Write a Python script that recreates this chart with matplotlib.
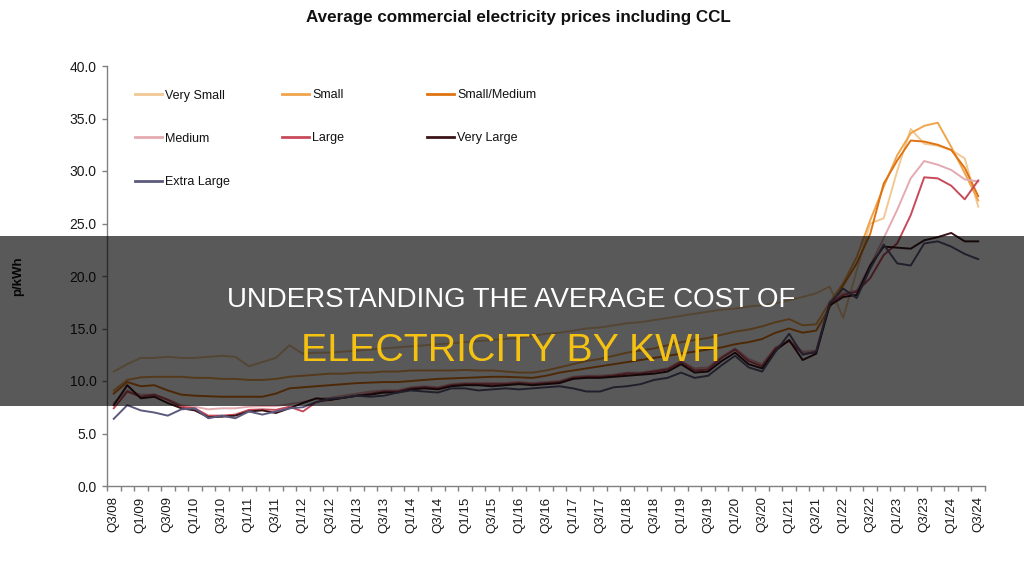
import numpy as np
import matplotlib
matplotlib.use("Agg")
import matplotlib.pyplot as plt
from matplotlib.patches import Rectangle
from matplotlib.lines import Line2D

plt.rcParams['font.family'] = ['Liberation Sans', 'DejaVu Sans']

# ---------------- data ----------------
quarter_labels = []
_q, _y = 3, 8
for _ in range(65):
    quarter_labels.append(f"Q{_q}/{_y:02d}")
    _q += 1
    if _q > 4:
        _q, _y = 1, _y + 1

series_names = ["Very Small", "Small", "Small/Medium", "Medium", "Large", "Very Large", "Extra Large"]

very_small = [10.9, 11.6, 12.2, 12.2, 12.3, 12.2, 12.2, 12.3, 12.4, 12.3,
              11.4, 11.8, 12.2, 13.4, 12.6, 12.7, 12.7, 12.8, 12.9, 13.0,
              13.1, 13.2, 13.3, 13.4, 13.5, 13.6, 13.7, 13.8, 13.9, 14.0,
              14.1, 14.3, 14.5, 14.6, 14.8, 15.0, 15.1, 15.3, 15.5, 15.6,
              15.8, 16.0, 16.2, 16.4, 16.6, 16.8, 16.9, 17.1, 17.2, 17.4,
              17.7, 18.0, 18.35, 19.0, 16.0, 20.5, 25.0, 25.5, 30.0, 34.0,
              32.6, 32.4, 32.0, 31.2, 26.6]
small = [9.1, 10.1, 10.35, 10.4, 10.4, 10.4, 10.3, 10.3, 10.2, 10.2,
         10.1, 10.1, 10.2, 10.4, 10.5, 10.6, 10.7, 10.7, 10.8, 10.8,
         10.9, 10.9, 11.0, 11.0, 11.0, 11.0, 11.05, 11.0, 11.0, 10.9,
         10.8, 10.8, 11.0, 11.3, 11.6, 11.9, 12.1, 12.4, 12.7, 12.9,
         13.1, 13.4, 13.7, 13.9, 14.1, 14.4, 14.7, 14.9, 15.2, 15.6,
         15.9, 15.3, 15.4, 17.5, 19.3, 21.8, 25.3, 28.5, 31.5, 33.6,
         34.3, 34.6, 32.3, 29.8, 27.2]
small_medium = [8.8, 9.9, 9.5, 9.6, 9.1, 8.7, 8.6, 8.55, 8.5, 8.5,
                8.5, 8.5, 8.8, 9.3, 9.4, 9.5, 9.6, 9.7, 9.8, 9.85,
                9.9, 9.9, 10.0, 10.1, 10.2, 10.25, 10.3, 10.35, 10.4, 10.4,
                10.35, 10.3, 10.5, 10.8, 11.0, 11.2, 11.4, 11.6, 11.8, 12.0,
                12.2, 12.4, 12.6, 12.8, 13.0, 13.2, 13.5, 13.7, 14.0, 14.6,
                15.0, 14.6, 14.8, 17.0, 19.1, 21.2, 24.0, 28.8, 31.0, 32.9,
                32.8, 32.5, 32.0, 30.3, 27.6]
medium = [7.9, 9.1, 8.7, 8.7, 8.25, 7.7, 7.55, 7.3, 7.4, 7.4,
          7.55, 7.6, 7.6, 7.8, 8.0, 8.3, 8.4, 8.6, 8.8, 9.0,
          9.1, 9.1, 9.4, 9.5, 9.4, 9.7, 9.8, 9.8, 9.8, 9.8,
          9.9, 9.8, 9.9, 10.0, 10.4, 10.5, 10.5, 10.6, 10.8, 10.8,
          11.0, 11.2, 11.9, 11.2, 11.3, 12.3, 13.1, 12.1, 11.6, 13.2,
          13.9, 12.8, 12.9, 17.6, 18.4, 18.6, 21.0, 23.6, 26.3, 29.3,
          30.95, 30.6, 30.1, 29.2, 29.0]
large = [7.4, 9.0, 8.5, 8.7, 8.2, 7.55, 7.4, 6.7, 6.7, 6.8,
         7.25, 7.3, 7.25, 7.55, 7.1, 8.0, 8.2, 8.4, 8.6, 8.8,
         9.0, 9.0, 9.3, 9.4, 9.3, 9.6, 9.7, 9.7, 9.7, 9.7,
         9.8, 9.7, 9.8, 9.9, 10.3, 10.4, 10.4, 10.5, 10.7, 10.7,
         10.9, 11.1, 11.8, 11.0, 11.1, 12.2, 13.0, 11.9, 11.4, 13.1,
         13.8, 12.6, 12.7, 17.4, 18.2, 18.5, 19.8, 22.0, 23.1, 25.8,
         29.4, 29.3, 28.6, 27.3, 29.1]
very_large = [7.7, 9.6, 8.35, 8.5, 7.9, 7.4, 7.2, 6.55, 6.6, 6.7,
              7.1, 7.2, 6.95, 7.4, 7.9, 8.35, 8.2, 8.4, 8.6, 8.7,
              8.9, 8.9, 9.2, 9.3, 9.2, 9.5, 9.6, 9.6, 9.5, 9.6,
              9.7, 9.6, 9.7, 9.8, 10.2, 10.3, 10.3, 10.4, 10.5, 10.6,
              10.7, 10.9, 11.6, 10.8, 10.9, 11.9, 12.7, 11.6, 11.2, 12.9,
              13.9, 12.0, 12.6, 17.2, 18.0, 18.2, 21.0, 22.8, 22.7, 22.6,
              23.4, 23.7, 24.1, 23.3, 23.3]
extra_large = [6.4, 7.7, 7.2, 7.0, 6.7, 7.3, 7.4, 6.45, 6.7, 6.45,
               7.1, 6.8, 7.1, 7.4, 7.5, 8.0, 8.3, 8.4, 8.6, 8.5,
               8.6, 8.9, 9.1, 9.0, 8.9, 9.3, 9.3, 9.1, 9.2, 9.3,
               9.2, 9.3, 9.4, 9.5, 9.3, 9.0, 9.0, 9.4, 9.5, 9.7,
               10.1, 10.3, 10.8, 10.3, 10.5, 11.5, 12.4, 11.3, 10.9, 12.8,
               14.5, 12.5, 12.8, 17.4, 18.8, 17.9, 20.7, 23.0, 21.2, 21.0,
               23.1, 23.3, 22.8, 22.1, 21.6]

series_values = [very_small, small, small_medium, medium, large, very_large, extra_large]
series_colors = ["#F2C894", "#F0A44C", "#DE7412", "#E4AAB0", "#C94A5A", "#3A1419", "#5C5A7C"]

title_text = "Average commercial electricity prices including CCL"
y_label = "p/kWh"
banner_line1 = "UNDERSTANDING THE AVERAGE COST OF"
banner_line2 = "ELECTRICITY BY KWH"

# ---------------- layout ----------------
W, H = 1024, 575
fig = plt.figure(figsize=(W / 100, H / 100), dpi=100)
fig.patch.set_facecolor("white")


def fx(px):
    return px / W


def fy(py):
    return 1 - py / H


ax = fig.add_axes([fx(107), fy(486), (985 - 107) / W, (486 - 66) / H])

x = np.arange(len(quarter_labels))
for vals, col in zip(series_values, series_colors):
    ax.plot(x, vals, color=col, lw=1.4, solid_joinstyle="round", zorder=3)

ax.set_xlim(-0.5, len(quarter_labels) - 0.5)
ax.set_ylim(0, 40)

yt = np.arange(0, 41, 5)
ax.set_yticks(yt)
ax.set_yticklabels([f"{v:.1f}" for v in yt])

ax.set_xticks(np.arange(-0.5, len(quarter_labels), 1))
ax.set_xticklabels([])
ax.set_xticks(x[::2], minor=True)
ax.set_xticklabels(quarter_labels[::2], minor=True, rotation=90)

for s in ["top", "right"]:
    ax.spines[s].set_visible(False)
for s in ["left", "bottom"]:
    ax.spines[s].set_color("#808080")
    ax.spines[s].set_linewidth(1.0)

ax.tick_params(axis="y", which="major", length=3.5, width=1, color="#808080",
               labelsize=10, pad=4, labelcolor="#1a1a1a")
ax.tick_params(axis="x", which="major", length=3.5, width=1, color="#808080")
ax.tick_params(axis="x", which="minor", length=0, labelsize=9.5, pad=7.5,
               labelcolor="#1a1a1a")

# legend drawn manually (3 columns)
leg_handle_x = [135, 282, 427]
leg_row_y = [94, 137, 180.5]
for k, (name, col) in enumerate(zip(series_names, series_colors)):
    r, c = divmod(k, 3)
    hx = leg_handle_x[c]
    hy = leg_row_y[r]
    fig.add_artist(Line2D([fx(hx), fx(hx + 27)], [fy(hy), fy(hy)],
                          color=col, lw=2, transform=fig.transFigure))
    fig.text(fx(hx + 30), fy(hy + 4.5), name, fontsize=9, color="#111111",
             ha="left", va="baseline")

# title
renderer = fig.canvas.get_renderer()


def fit_width(t, target):
    w = t.get_window_extent(renderer).width
    t.set_fontsize(t.get_fontsize() * target / w)


title = fig.text(fx(518), fy(22), title_text, fontsize=10.5, fontweight="bold",
                 ha="center", va="baseline", color="#111111")
fit_width(title, 426)

fig.text(fx(18), fy(276), y_label, rotation=90, fontsize=9.5, fontweight="bold",
         ha="center", va="center", color="#111111")

# banner overlay
fig.add_artist(Rectangle((0, fy(406)), 1, (406 - 236) / H, transform=fig.transFigure,
                         facecolor="black", edgecolor="none", alpha=0.65, zorder=10))

t1 = fig.text(fx(511), fy(307), banner_line1, fontsize=20, color="white",
              ha="center", va="baseline", zorder=11)
fit_width(t1, 569)
t2 = fig.text(fx(511), fy(361), banner_line2, fontsize=28, color="#F5C211",
              ha="center", va="baseline", zorder=11)
fit_width(t2, 419)

fig.savefig("out.png", dpi=100)
